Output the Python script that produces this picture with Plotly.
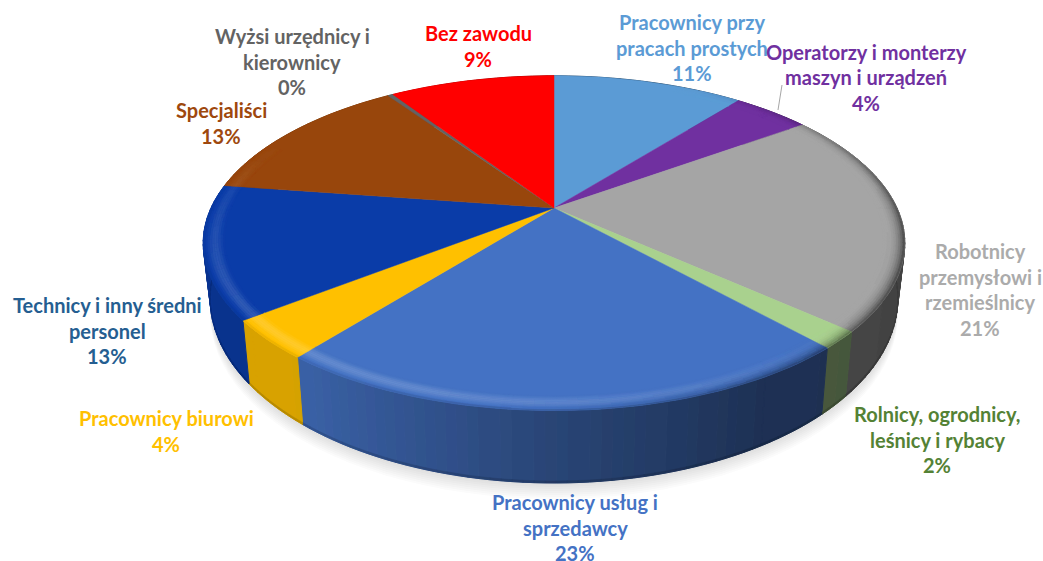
import math
import plotly.graph_objects as go

# ---- data (percent shares, clockwise from 12 o'clock)
categories = ["Pracownicy przy pracach prostych", "Operatorzy i monterzy maszyn i urządzeń",
              "Robotnicy przemysłowi i rzemieślnicy", "Rolnicy, ogrodnicy, leśnicy i rybacy",
              "Pracownicy usług i sprzedawcy", "Pracownicy biurowi", "Technicy i inny średni personel",
              "Specjaliści", "Wyżsi urzędnicy i kierownicy", "Bez zawodu"]
values = [10.75, 4.35, 21.49, 1.66, 22.5, 3.75, 12.8, 13.1, 0.3, 9.3]

# ---- styles
slice_colors = ["#5B9BD5", "#7030A0", "#A5A5A5", "#A9D18E", "#4472C4",
                "#FFC000", "#0A3CA8", "#98460C", "#636363", "#FF0000"]
text_colors = ["#5B9BD5", "#7030A0", "#ABABAB", "#548235", "#4472C4",
               "#FFC000", "#255E91", "#9E480E", "#636363", "#FF0000"]
label_lines = [["Pracownicy przy", "pracach prostych"], ["Operatorzy i monterzy", "maszyn i urządzeń"],
               ["Robotnicy", "przemysłowi i", "rzemieślnicy"], ["Rolnicy, ogrodnicy,", "leśnicy i rybacy"],
               ["Pracownicy usług i", "sprzedawcy"], ["Pracownicy biurowi"], ["Technicy i inny średni", "personel"],
               ["Specjaliści"], ["Wyżsi urzędnicy i", "kierownicy"], ["Bez zawodu"]]
label_cx = [692, 866, 980, 937, 575, 166, 107, 221, 292, 478]
label_y0 = [22, 51.5, 251, 414, 502, 418, 305, 110, 36, 33]
LINE_H = 25.7
FONT_SIZE = 20

# ---- geometry of the tilted disc (perspective projection in pixel axes)
CX, CY, A, B, K = 554.0, 208.0, 343.0, 160.0, 0.21
W, H = 1043, 561


def top(theta, r=1.0):
    u, v = r * math.sin(theta), r * math.cos(theta)
    d = 1 + K * v
    return CX + A * u / d, CY - B * v / d


def bottom(theta):
    x, y = top(theta)
    return CX + 0.98 * (x - CX), 31.4 + 1.1 * y


def rgb(c):
    return [int(c[i:i + 2], 16) for i in (1, 3, 5)]


def mix(c, target, t):
    return [c[i] + (target[i] - c[i]) * t for i in range(3)]


def css(c):
    return "rgb(%d,%d,%d)" % tuple(max(0, min(255, round(x / 3) * 3)) for x in c)


def interp(x, xs, ys):
    if x <= xs[0]:
        return ys[0]
    for i in range(1, len(xs)):
        if x <= xs[i]:
            return ys[i - 1] + (ys[i] - ys[i - 1]) * (x - xs[i - 1]) / (xs[i] - xs[i - 1])
    return ys[-1]


# slice angle ranges from the values
total = sum(values)
edges = [0.0]
for val in values:
    edges.append(edges[-1] + val / total * 2 * math.pi)

fig = go.Figure()
layers = {}


def add_poly(layer, color, xs, ys):
    g = layers.setdefault(layer, {}).setdefault(color, ([], []))
    g[0].extend(xs + [xs[0], None])
    g[1].extend(ys + [ys[0], None])


STEP = math.radians(1.5)


def arc_steps(a0, a1):
    n = max(1, int(math.ceil((a1 - a0) / STEP)))
    return [a0 + (a1 - a0) * i / n for i in range(n + 1)]


# soft shadow under the disc
for d in range(2, 18, 2):
    pts = [bottom(math.radians(t)) for t in range(0, 360, 3)]
    fig.add_trace(go.Scatter(x=[p[0] for p in pts], y=[p[1] + d for p in pts], mode="lines", fill="toself",
                             fillcolor="rgba(60,60,60,0.018)", line=dict(width=0), hoverinfo="skip"))

BANDS = [0.94 + 0.006 * k for k in range(11)]

# side wall and bevelled rim for every slice
for i, color in enumerate(slice_colors):
    base = rgb(color)
    ts = arc_steps(edges[i], edges[i + 1])
    for a0, a1 in zip(ts[:-1], ts[1:]):
        am = (a0 + a1) / 2
        u, v = math.sin(am), math.cos(am)
        light = interp(u, [-1, -0.6, 0, 0.5, 1], [0.85, 0.84, 0.6, 0.43, 0.40])
        side = [c * light for c in base]
        p0, p1, q1, q0 = top(a0), top(a1), bottom(a1), bottom(a0)
        add_poly("side", css(side), [p0[0], p1[0], q1[0], q0[0]], [p0[1], p1[1], q1[1], q0[1]])
        # darker line along the lower edge of the wall
        e0 = (q0[0], q0[1] - 2)
        e1 = (q1[0], q1[1] - 2)
        add_poly("side2", css([c * 0.85 for c in side]), [e0[0], e1[0], q1[0], q0[0]], [e0[1], e1[1], q1[1], q0[1]])
        # bevel
        hi = max(0.0, min(1.0, -0.5 * u - 0.8 * v - 0.1))
        sh = max(0.0, min(1.0, 0.95 * u - 0.3 * v)) ** 2
        for b0, b1 in zip(BANDS[:-1], BANDS[1:]):
            t = ((b0 + b1) / 2 - BANDS[0]) / (BANDS[-1] - BANDS[0])
            c = list(base)
            peak = math.sin(math.pi * min(t / 0.9, 1.0)) ** 2
            c = mix(c, [255, 255, 255], 0.2 * hi * peak)
            c = mix(c, [0, 0, 0], 0.6 * sh * t ** 3)
            if t > 0.85:
                c = mix(c, side, 0.5 * hi)
            a = top(a0, b0); b = top(a1, b0); e = top(a1, b1); f = top(a0, b1)
            if hi > 0.02 or sh > 0.02:
                add_poly("rim", css(c), [a[0], b[0], e[0], f[0]], [a[1], b[1], e[1], f[1]])


def emit(layer, lw):
    for col, (xs, ys) in layers.get(layer, {}).items():
        fig.add_trace(go.Scatter(x=xs, y=ys, mode="lines", fill="toself", fillcolor=col,
                                 line=dict(color=col, width=lw), hoverinfo="skip"))


emit("side", 1)
emit("side2", 0.5)

# top face wedges
for i, color in enumerate(slice_colors):
    pts = [top(a) for a in arc_steps(edges[i], edges[i + 1])]
    xs = [CX] + [p[0] for p in pts] + [CX]
    ys = [CY] + [p[1] for p in pts] + [CY]
    fig.add_trace(go.Scatter(x=xs, y=ys, mode="lines", fill="toself", fillcolor=color,
                             line=dict(color=color, width=0.5), hoverinfo="skip", name=categories[i]))

emit("rim", 0.4)

# leader line of the purple label
lx = [782, 778]
ly = [85, 110]
fig.add_trace(go.Scatter(x=lx, y=ly, mode="lines", line=dict(color="#A6A6A6", width=1), hoverinfo="skip"))

# labels
annotations = []
for i, lines in enumerate(label_lines):
    rows = lines + ["%d%%" % int(values[i] + 0.5)]
    for j, row in enumerate(rows):
        annotations.append(dict(x=label_cx[i], y=label_y0[i] + j * LINE_H, text=row,
                                xref="x", yref="y", showarrow=False, xanchor="center", yanchor="middle",
                                font=dict(family="Lato", size=FONT_SIZE, color=text_colors[i], weight="bold")))

fig.update_layout(width=W, height=H, autosize=False, margin=dict(l=0, r=0, t=0, b=0), showlegend=False,
                  paper_bgcolor="white", plot_bgcolor="white", annotations=annotations,
                  xaxis=dict(range=[0, W], visible=False, fixedrange=True),
                  yaxis=dict(range=[H, 0], visible=False, fixedrange=True))
fig.write_html("out.html", config={"displayModeBar": False},
               post_script="document.body.style.margin='0';document.body.style.overflow='hidden';")
